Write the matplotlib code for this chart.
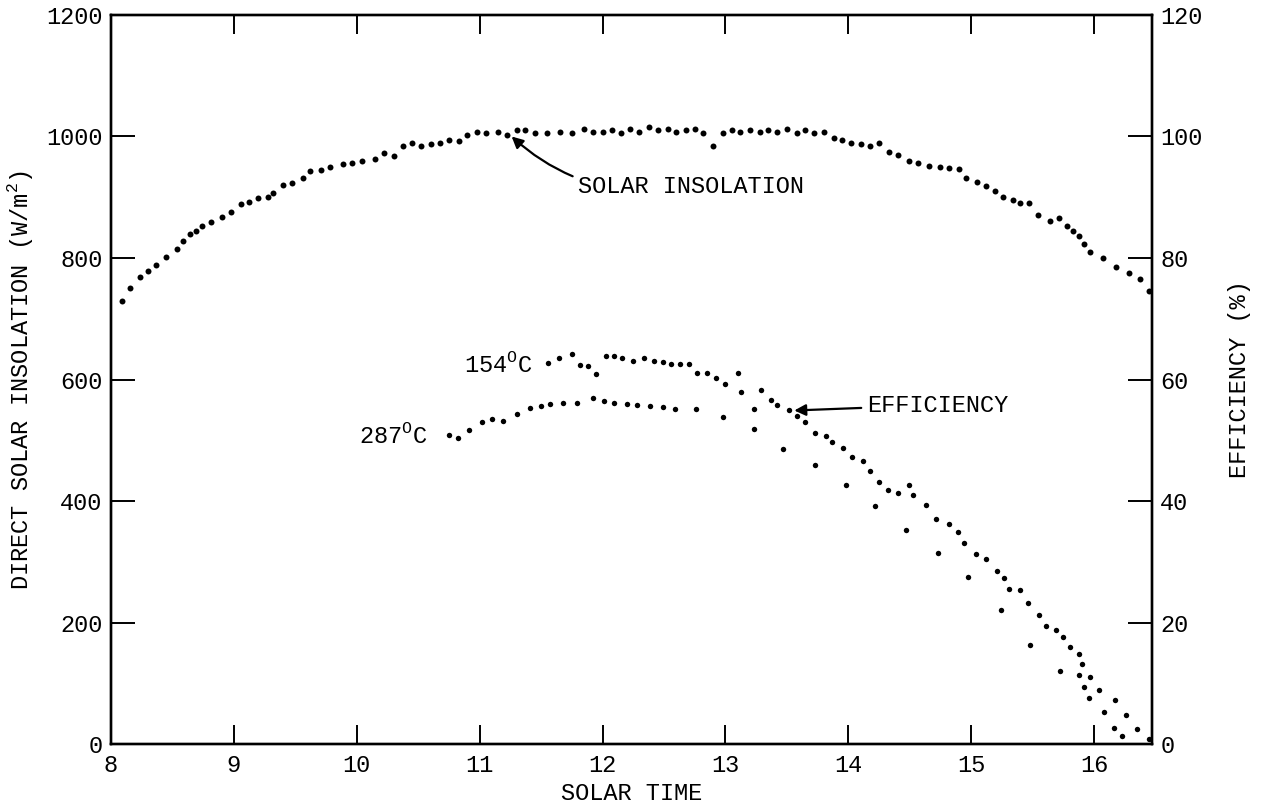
import numpy as np
import matplotlib.pyplot as plt

plt.rcParams['font.family'] = ['Liberation Mono', 'DejaVu Sans Mono']
plt.rcParams['mathtext.fontset'] = 'custom'
plt.rcParams['mathtext.rm'] = 'Liberation Mono'

# direct solar insolation (W/m2) vs solar time
ins_time = [8.09, 8.155, 8.24, 8.30, 8.37, 8.445, 8.54, 8.59, 8.64, 8.69, 8.74, 8.81,
            8.90, 8.98, 9.06, 9.12, 9.20, 9.28, 9.32, 9.40, 9.47, 9.56, 9.62, 9.71,
            9.78, 9.89, 9.96, 10.04, 10.15, 10.22, 10.30, 10.38, 10.45, 10.52, 10.60,
            10.68, 10.75, 10.83, 10.90, 10.98, 11.05, 11.15, 11.22, 11.30, 11.37, 11.45,
            11.55, 11.65, 11.75, 11.85, 11.92, 12.00, 12.08, 12.15, 12.22, 12.30, 12.38,
            12.45, 12.53, 12.60, 12.68, 12.75, 12.82, 12.90, 12.98, 13.05, 13.12, 13.20,
            13.28, 13.35, 13.42, 13.50, 13.58, 13.65, 13.72, 13.80, 13.88, 13.95, 14.02,
            14.10, 14.18, 14.25, 14.33, 14.40, 14.49, 14.57, 14.66, 14.745, 14.82, 14.90,
            14.96, 15.05, 15.12, 15.19, 15.26, 15.34, 15.40, 15.47, 15.545, 15.64, 15.71,
            15.78, 15.83, 15.88, 15.92, 15.965, 16.07, 16.18, 16.28, 16.37, 16.45]
insolation = [730, 750, 768, 778, 788, 802, 815, 828, 840, 844, 853, 860,
              867, 875, 889, 892, 898, 901, 907, 920, 924, 932, 944, 945,
              949, 954, 957, 959, 963, 972, 968, 985, 990, 985, 987,
              990, 995, 992, 1002, 1007, 1005, 1008, 1003, 1010, 1010, 1005,
              1005, 1008, 1005, 1012, 1008, 1007, 1010, 1005, 1012, 1008, 1015,
              1010, 1012, 1008, 1010, 1012, 1005, 985, 1005, 1010, 1008, 1010,
              1008, 1010, 1008, 1012, 1005, 1010, 1005, 1008, 998, 995, 990,
              988, 985, 990, 975, 970, 960, 957, 951, 950, 948, 946,
              932, 925, 918, 910, 901, 895, 890, 890, 870, 861, 865,
              853, 844, 837, 823, 810, 800, 785, 775, 765, 745]

# efficiency (%) at 154 C
eff154_time = [11.56, 11.645, 11.75, 11.82, 11.88, 11.95, 12.03, 12.09, 12.16, 12.25,
               12.34, 12.42, 12.49, 12.56, 12.63, 12.70, 12.77, 12.85, 12.92, 13.00,
               13.10, 13.13, 13.23, 13.29, 13.37, 13.42, 13.52, 13.58, 13.65, 13.73,
               13.82, 13.87, 13.96, 14.03, 14.12, 14.18, 14.25, 14.32, 14.40, 14.49,
               14.53, 14.63, 14.71, 14.82, 14.89, 14.94, 15.04, 15.12, 15.21, 15.27,
               15.31, 15.40, 15.465, 15.55, 15.61, 15.69, 15.75, 15.80, 15.88, 15.90,
               15.97, 16.04, 16.17, 16.26, 16.35, 16.45]
eff154 = [62.7, 63.6, 64.2, 62.4, 62.3, 60.9, 63.9, 63.8, 63.6, 63.1,
          63.6, 63.1, 62.9, 62.5, 62.5, 62.5, 61.0, 61.0, 60.3, 59.2,
          61.1, 57.9, 55.2, 58.3, 56.7, 55.8, 55.0, 54.0, 53.0, 51.2,
          50.7, 49.7, 48.8, 47.3, 46.6, 44.9, 43.2, 41.8, 41.4, 42.6,
          41.0, 39.3, 37.0, 36.2, 34.9, 33.1, 31.3, 30.4, 28.5, 27.3,
          25.6, 25.4, 23.2, 21.2, 19.5, 18.8, 17.6, 15.9, 14.9, 13.1,
          11.1, 8.9, 7.2, 4.7, 2.5, 0.9]

# efficiency (%) at 287 C
eff287_time = [10.75, 10.82, 10.91, 11.02, 11.10, 11.19, 11.30, 11.41, 11.50, 11.57,
               11.675, 11.79, 11.92, 12.01, 12.09, 12.195, 12.28, 12.385, 12.49, 12.59,
               12.76, 12.98, 13.23, 13.47, 13.73, 13.98, 14.22, 14.47, 14.73, 14.97,
               15.245, 15.48, 15.72, 15.88, 15.92, 15.96, 16.08, 16.16, 16.23]
eff287 = [50.9, 50.3, 51.7, 53.0, 53.5, 53.2, 54.4, 55.3, 55.7, 55.9,
          56.1, 56.2, 56.9, 56.5, 56.1, 56.0, 55.8, 55.6, 55.4, 55.1,
          55.1, 53.8, 51.8, 48.6, 45.9, 42.6, 39.2, 35.2, 31.5, 27.5,
          22.1, 16.3, 12.0, 11.3, 9.4, 7.6, 5.2, 2.6, 1.3]

fig = plt.figure(figsize=(12.61, 8.09), dpi=100)
ax = fig.add_axes([0.088, 0.0803, 0.8255, 0.9012])
ax2 = ax.twinx()

ax.plot(ins_time, insolation, 'o', color='black', markersize=4.3, markeredgewidth=0)
ax2.plot(eff154_time, eff154, 'o', color='black', markersize=3.9, markeredgewidth=0)
ax2.plot(eff287_time, eff287, 'o', color='black', markersize=3.9, markeredgewidth=0)

ax.set_xlim(8, 16.47)
ax.set_ylim(0, 1200)
ax2.set_ylim(0, 120)
ax.set_xticks(range(8, 17))
ax.set_yticks(range(0, 1201, 200))
ax2.set_yticks(range(0, 121, 20))

for a in (ax, ax2):
    for s in a.spines.values():
        s.set_linewidth(1.7)
ax.tick_params(axis='x', direction='in', length=14, width=1.4, top=True,
               labelsize=17, pad=7)
ax.tick_params(axis='y', direction='in', length=17, width=1.4, labelsize=17, pad=6)
ax2.tick_params(axis='y', direction='in', length=17, width=1.4, labelsize=17, pad=6)

ax.set_xlabel('SOLAR TIME', fontsize=17, labelpad=4)
ax.set_ylabel(r'DIRECT SOLAR INSOLATION (W/m$^2$)', fontsize=17, labelpad=8)
ax2.set_ylabel('EFFICIENCY (%)', fontsize=17, labelpad=18)

ax.annotate('SOLAR INSOLATION', xy=(11.26, 1000), xytext=(11.8, 917),
            fontsize=17, va='center', ha='left',
            arrowprops=dict(arrowstyle='-|>', color='black', lw=1.6,
                            connectionstyle='arc3,rad=-0.25', shrinkA=2, shrinkB=0))
ax.annotate('EFFICIENCY', xy=(13.56, 549), xytext=(14.15, 558),
            fontsize=17, va='center', ha='left',
            arrowprops=dict(arrowstyle='-|>', color='black', lw=1.6,
                            shrinkA=2, shrinkB=0))
ax.text(11.43, 625, r'154$^\mathrm{O}$C', fontsize=17, ha='right', va='center')
ax.text(10.58, 508, r'287$^\mathrm{O}$C', fontsize=17, ha='right', va='center')

fig.savefig('out.png', dpi=100)
